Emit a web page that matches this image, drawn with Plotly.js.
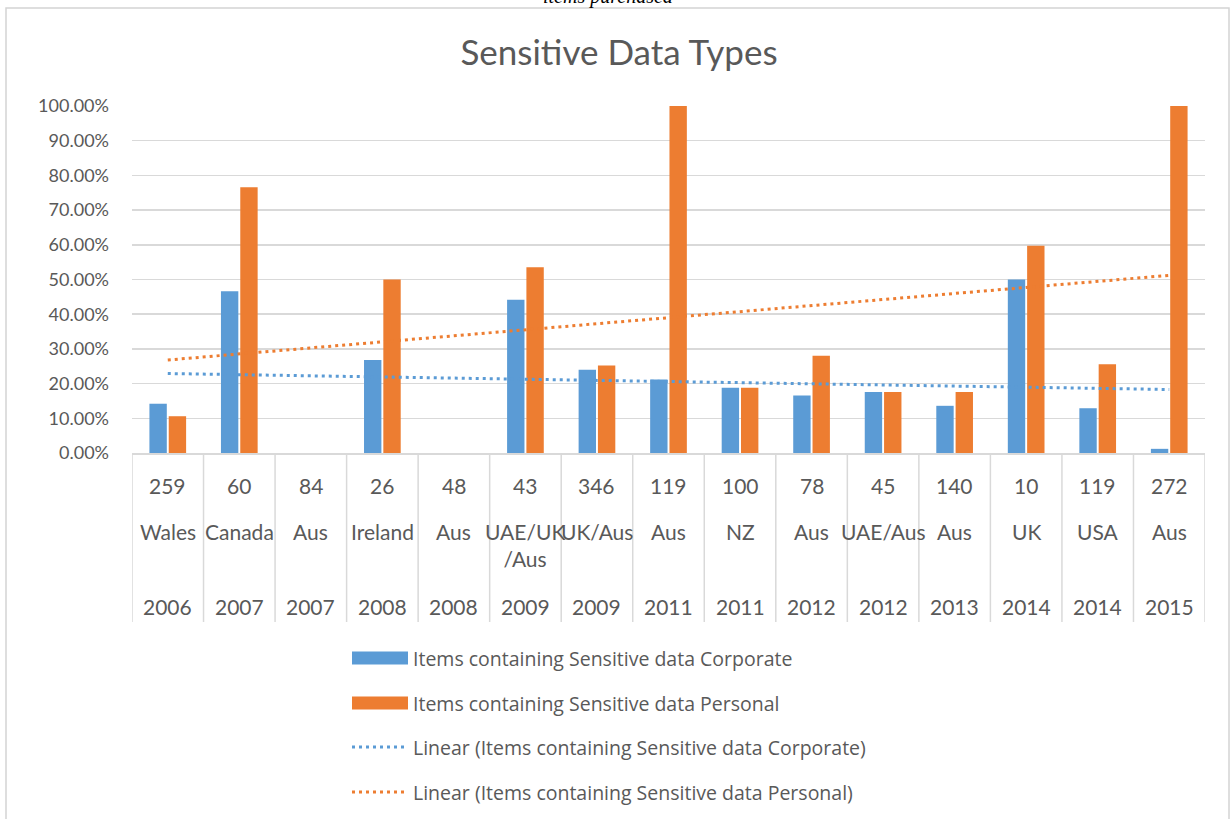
<!DOCTYPE html>
<html><head><meta charset="utf-8">
<script src="https://cdn.plot.ly/plotly-3.0.1.min.js"></script>
<style>html,body{margin:0;padding:0;background:#fff;}#chart{width:1232px;height:819px;}</style>
</head><body><div id="chart"></div>
<script>
// ---- data ----
const counts = ['259','60','84','26','48','43','346','119','100','78','45','140','10','119','272'];
const locations = ['Wales','Canada','Aus','Ireland','Aus','UAE/UK<br>/Aus','UK/Aus','Aus','NZ','Aus','UAE/Aus','Aus','UK','USA','Aus'];
const years = ['2006','2007','2007','2008','2008','2009','2009','2011','2011','2012','2012','2013','2014','2014','2015'];
const corporate = [0.142, 0.466, null, 0.268, null, 0.442, 0.240, 0.212, 0.188, 0.166, 0.176, 0.136, 0.500, 0.129, 0.012];
const personal  = [0.106, 0.766, null, 0.500, null, 0.535, 0.252, 1.000, 0.188, 0.280, 0.176, 0.176, 0.597, 0.256, 1.000];
const trendCorporate = [0.229, 0.183];   // linear trend at first and last category
const trendPersonal  = [0.268, 0.512];
const seriesNames = ['Items containing Sensitive data Corporate','Items containing Sensitive data Personal',
  'Linear (Items containing Sensitive data Corporate)','Linear (Items containing Sensitive data Personal)'];
const chartTitle = 'Sensitive Data Types';
const topCaption = 'items purchased';

// ---- geometry ----
const W = 1232, H = 819, L = 132, R = 27, T = 106, B = 366;
const PW = W - L - R, PH = H - T - B;
const px = v => (v - L) / PW;
const py = v => (H - B - v) / PH;
const BLUE = '#5B9BD5', ORANGE = '#ED7D31', TXT = '#595959', GRID = '#d9d9d9';
const FONT = 'Lato, "Open Sans", sans-serif';
const LEGFONT = '"Open Sans", Lato, sans-serif';

const keys = counts.map((c, i) => c + ' ' + locations[i].replace('<br>', '') + ' ' + years[i]);
const n = keys.length;

const traces = [
  {type: 'bar', x: keys, y: corporate, name: seriesNames[0], marker: {color: BLUE}},
  {type: 'bar', x: keys, y: personal, name: seriesNames[1], marker: {color: ORANGE}},
  {type: 'scatter', mode: 'lines', x: [keys[0], keys[n-1]], y: trendCorporate, name: seriesNames[2],
   line: {color: BLUE, width: 3, dash: '3px,4px'}},
  {type: 'scatter', mode: 'lines', x: [keys[0], keys[n-1]], y: trendPersonal, name: seriesNames[3],
   line: {color: ORANGE, width: 3, dash: '3px,4px'}}
];

const annotations = [];
const shapes = [];
const catFont = {family: FONT, size: 21, color: TXT};
keys.forEach((k, i) => {
  annotations.push({x: k, xref: 'x', y: py(485), yref: 'paper', yanchor: 'middle', text: counts[i], showarrow: false, font: catFont});
  annotations.push({x: k, xref: 'x', y: py(517), yref: 'paper', yanchor: 'top', text: locations[i], showarrow: false, font: catFont});
  annotations.push({x: k, xref: 'x', y: py(606), yref: 'paper', yanchor: 'middle', text: years[i], showarrow: false, font: catFont});
});
for (let i = 0; i <= n; i++) {
  shapes.push({type: 'line', xref: 'x', yref: 'paper', x0: i - 0.5, x1: i - 0.5, y0: 0, y1: py(622), line: {color: GRID, width: 1.5}});
}
// chart frame
shapes.push({type: 'rect', xref: 'paper', yref: 'paper', x0: px(6), x1: px(1229), y0: py(8), y1: py(840), line: {color: '#d4d4d4', width: 1.5}, layer: 'below'});

// legend (drawn manually to match wide swatches)
const legRows = [658, 703, 747, 792];
shapes.push({type: 'rect', xref: 'paper', yref: 'paper', x0: px(352), x1: px(408), y0: py(legRows[0] - 6.5), y1: py(legRows[0] + 6.5), fillcolor: BLUE, line: {width: 0}});
shapes.push({type: 'rect', xref: 'paper', yref: 'paper', x0: px(352), x1: px(408), y0: py(legRows[1] - 6.5), y1: py(legRows[1] + 6.5), fillcolor: ORANGE, line: {width: 0}});
shapes.push({type: 'line', xref: 'paper', yref: 'paper', x0: px(352), x1: px(406), y0: py(legRows[2]), y1: py(legRows[2]), line: {color: BLUE, width: 3, dash: '3px,4px'}});
shapes.push({type: 'line', xref: 'paper', yref: 'paper', x0: px(352), x1: px(406), y0: py(legRows[3]), y1: py(legRows[3]), line: {color: ORANGE, width: 3, dash: '3px,4px'}});
seriesNames.forEach((s, i) => {
  annotations.push({x: px(411), xref: 'paper', xanchor: 'left', y: py(legRows[i]), yref: 'paper', yanchor: 'middle', text: s, showarrow: false, font: {family: LEGFONT, size: 19.5, color: TXT}});
});
// caption cropped at the very top, as in the source image
annotations.push({x: px(608), xref: 'paper', xanchor: 'center', y: py(10), yref: 'paper', yanchor: 'bottom', text: '<i>' + topCaption + '</i>', showarrow: false, font: {family: '"Liberation Serif", serif', size: 20, color: '#000'}});

const layout = {
  width: W, height: H,
  margin: {l: L, r: R, t: T, b: B, pad: 0},
  paper_bgcolor: '#fff', plot_bgcolor: '#fff',
  showlegend: false,
  barmode: 'group', bargap: 0.46, bargroupgap: 0.1,
  title: {text: chartTitle, x: 619 / W, xref: 'container', xanchor: 'center', y: 1 - 53 / H, yref: 'container', yanchor: 'middle',
          font: {family: FONT, size: 35, color: TXT}},
  xaxis: {type: 'category', range: [-0.5, n - 0.5], showticklabels: false, ticks: '', showgrid: false,
          showline: true, linecolor: GRID, linewidth: 1.5, zeroline: false, fixedrange: true},
  yaxis: {range: [0, 1], dtick: 0.1, tick0: 0, tickformat: '.2%', showgrid: true, gridcolor: GRID, gridwidth: 1.5,
          zeroline: false, showline: false, ticks: '', ticklabelstandoff: 22,
          tickfont: {family: FONT, size: 18, color: TXT}, fixedrange: true},
  annotations: annotations,
  shapes: shapes,
  hovermode: false
};
Plotly.newPlot('chart', traces, layout, {displayModeBar: false, staticPlot: true});
</script>
</body></html>
